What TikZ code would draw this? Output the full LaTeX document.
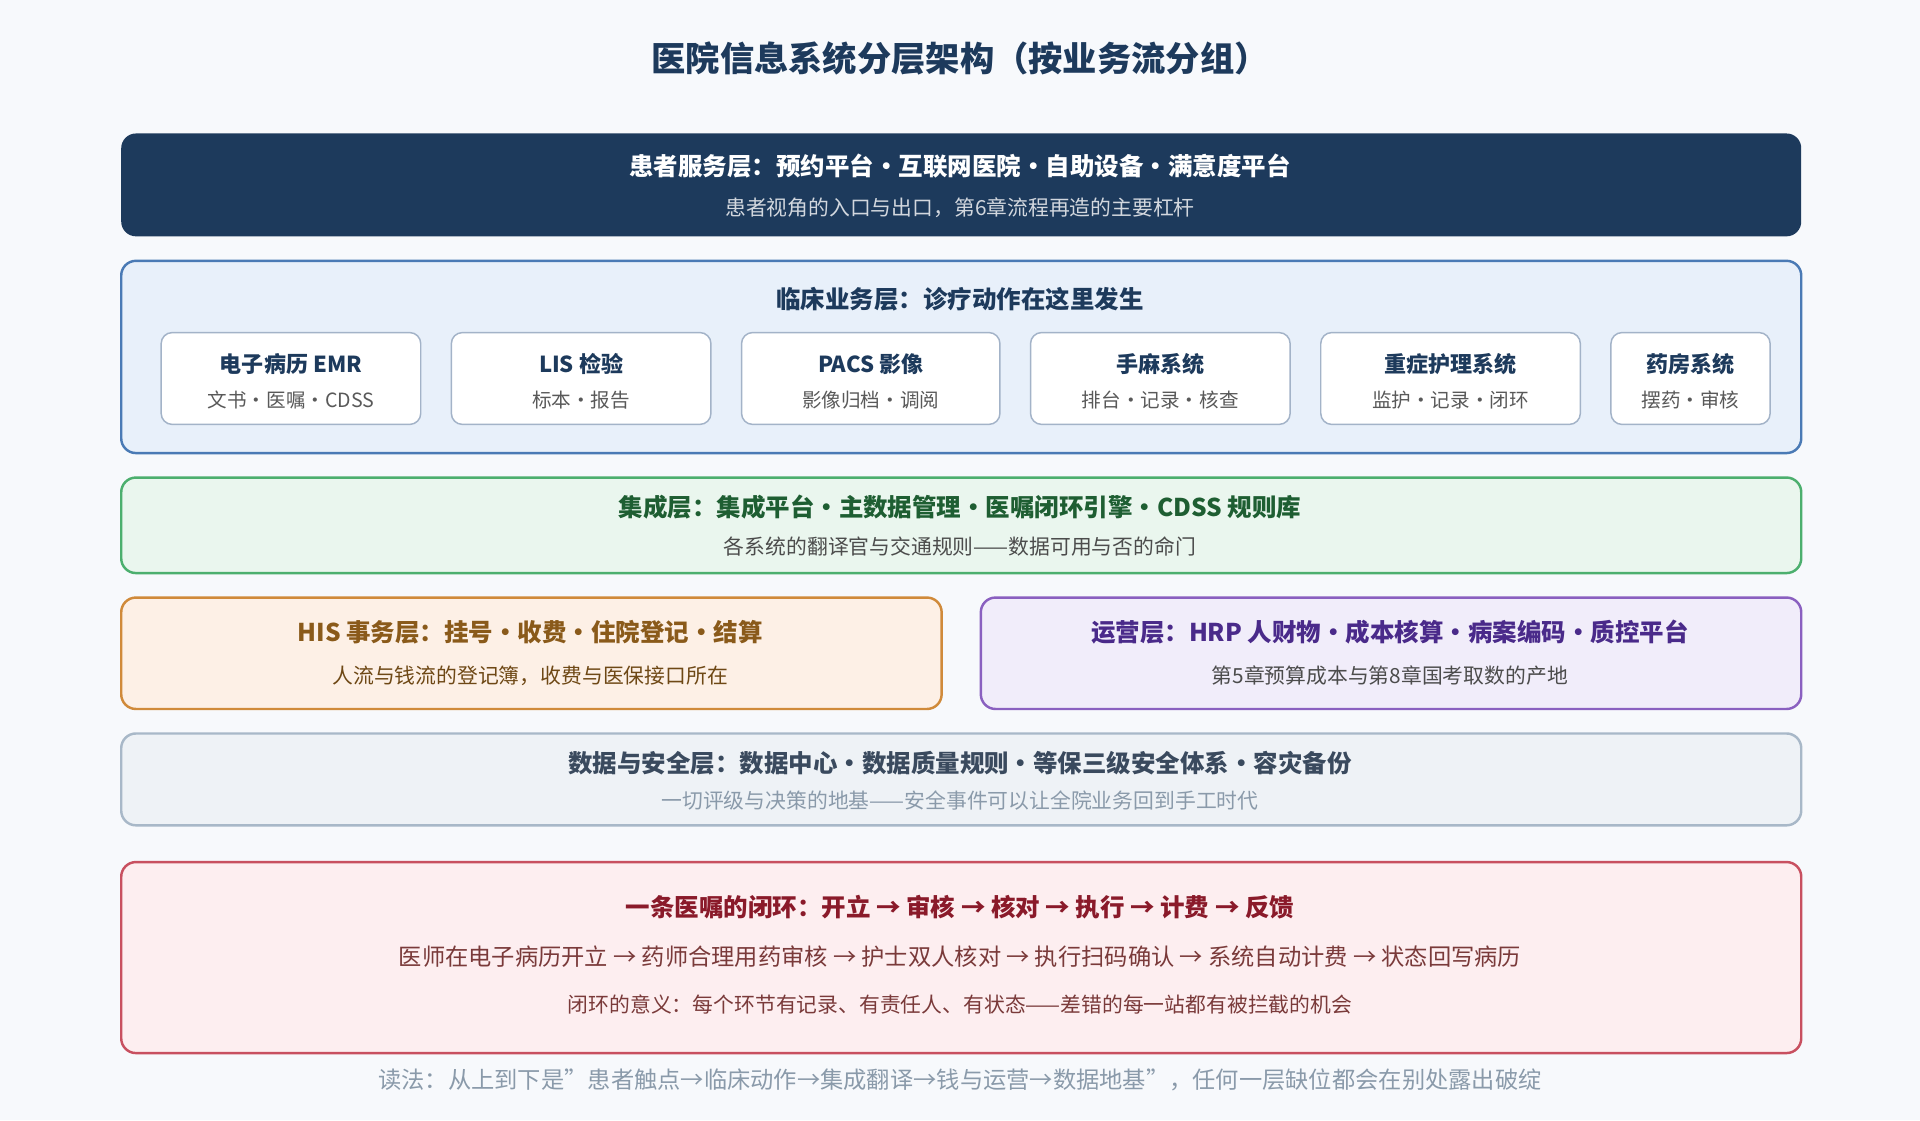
\documentclass[tikz,border=0pt]{standalone}
\usepackage{fontspec}
\setmainfont{Noto Sans CJK SC}
\usetikzlibrary{positioning}

\definecolor{navy}{HTML}{1D3A5C}
\definecolor{bgpage}{HTML}{F7F9FC}
\definecolor{clinfill}{HTML}{E8F0FA}
\definecolor{clindraw}{HTML}{4A7AB5}
\definecolor{cardline}{HTML}{A3B3C8}
\definecolor{intfill}{HTML}{EAF6EE}
\definecolor{intdraw}{HTML}{4CAF6E}
\definecolor{inttext}{HTML}{1E5E32}
\definecolor{hisfill}{HTML}{FDF0E6}
\definecolor{hisdraw}{HTML}{D08A3A}
\definecolor{histext}{HTML}{8A5A1A}
\definecolor{opsfill}{HTML}{F1EDFA}
\definecolor{opsdraw}{HTML}{8A60C0}
\definecolor{opstext}{HTML}{4A2A8A}
\definecolor{datfill}{HTML}{EEF2F6}
\definecolor{datdraw}{HTML}{A8B8C8}
\definecolor{dattext}{HTML}{3A4A5E}
\definecolor{loopfill}{HTML}{FDEEF0}
\definecolor{loopdraw}{HTML}{C85060}
\definecolor{looptext}{HTML}{8A1A2A}
\definecolor{loopsub}{HTML}{7A3A3A}
\definecolor{mutedtext}{HTML}{8A9AAA}

\begin{document}
\begin{tikzpicture}[x=1pt, y=-1pt,
	layer/.style={rounded corners=12pt, line width=2pt, anchor=north west, inner sep=0pt},
	card/.style={draw=cardline, fill=white, line width=1.2pt, rounded corners=9pt, anchor=north west, inner sep=0pt, minimum height=75pt},
	ttl/.style={font=\bfseries\fontsize{20}{24}\selectfont},
	sub/.style={font=\fontsize{17}{20}\selectfont},
	cardttl/.style={font=\bfseries\fontsize{18}{22}\selectfont, text=navy},
	cardsub/.style={font=\fontsize{16}{19}\selectfont, text=black!65}]

	%% Page and title
	\fill[bgpage] (0,0) rectangle (1568,915);
	\useasboundingbox (0,0) rectangle (1568,915);
	\node[font=\bfseries\fontsize{28}{32}\selectfont, text=navy] (title) at (784,48) {医院信息系统分层架构（按业务流分组）};

	%% Patient service layer
	\node[layer, fill=navy, minimum width=1372pt, minimum height=84pt] (patient) at (98,108) {};
	\node[ttl, text=white] (patient-t) at (784,136) {患者服务层：预约平台•互联网医院•自助设备•满意度平台};
	\node[sub, text=navy!20] (patient-s) at (784,170) {患者视角的入口与出口，第6章流程再造的主要杠杆};

	%% Clinical layer
	\node[layer, draw=clindraw, fill=clinfill, minimum width=1372pt, minimum height=157pt] (clinic) at (98,212) {};
	\node[ttl, text=navy] (clinic-t) at (784,244) {临床业务层：诊疗动作在这里发生};
	\foreach \x/\w/\name/\a/\b in {
		131/212/emr/电子病历 EMR/文书·医嘱·CDSS,
		368/212/lis/LIS 检验/标本·报告,
		605/211/pacs/PACS 影像/影像归档·调阅,
		841/212/or/手麻系统/排台·记录·核查,
		1078/212/icu/重症护理系统/监护·记录·闭环,
		1315/130/rx/药房系统/摆药·审核}{
		\node[card, minimum width=\w pt] (\name) at (\x,271) {};
		\node[cardttl] at ([yshift=-26pt]\name.north) {\a};
		\node[cardsub] at ([yshift=-56pt]\name.north) {\b};
	}

	%% Integration layer
	\node[layer, draw=intdraw, fill=intfill, minimum width=1372pt, minimum height=78pt] (integ) at (98,389) {};
	\node[ttl, text=inttext] (integ-t) at (784,414) {集成层：集成平台•主数据管理•医嘱闭环引擎•CDSS 规则库};
	\node[sub, text=black!70] (integ-s) at (784,446) {各系统的翻译官与交通规则——数据可用与否的命门};

	%% HIS and operations
	\node[layer, draw=hisdraw, fill=hisfill, minimum width=670pt, minimum height=91pt] (his) at (98,487) {};
	\node[ttl, text=histext] (his-t) at (433,516) {HIS 事务层：挂号•收费•住院登记•结算};
	\node[sub, text=histext!80!black] (his-s) at (433,552) {人流与钱流的登记簿，收费与医保接口所在};
	\node[layer, draw=opsdraw, fill=opsfill, minimum width=670pt, minimum height=91pt] (ops) at (800,487) {};
	\node[ttl, text=opstext] (ops-t) at (1135,516) {运营层：HRP 人财物•成本核算•病案编码•质控平台};
	\node[sub, text=black!70] (ops-s) at (1135,552) {第5章预算成本与第8章国考取数的产地};

	%% Data and security layer
	\node[layer, draw=datdraw, fill=datfill, minimum width=1372pt, minimum height=75pt] (data) at (98,598) {};
	\node[ttl, text=dattext] (data-t) at (784,623) {数据与安全层：数据中心•数据质量规则•等保三级安全体系•容灾备份};
	\node[sub, text=mutedtext] (data-s) at (784,654) {一切评级与决策的地基——安全事件可以让全院业务回到手工时代};

	%% Closed loop of an order
	\node[layer, draw=loopdraw, fill=loopfill, minimum width=1372pt, minimum height=156pt] (loop) at (98,703) {};
	\node[ttl, text=looptext] (loop-t) at (784,741) {一条医嘱的闭环：开立 → 审核 → 核对 → 执行 → 计费 → 反馈};
	\node[sub, text=loopsub, font=\fontsize{19}{22}\selectfont] (loop-a) at (784,781) {医师在电子病历开立 → 药师合理用药审核 → 护士双人核对 → 执行扫码确认 → 系统自动计费 → 状态回写病历};
	\node[sub, text=loopsub] (loop-b) at (784,820) {闭环的意义：每个环节有记录、有责任人、有状态——差错的每一站都有被拦截的机会};

	%% Footer
	\node[text=mutedtext, font=\fontsize{19}{22}\selectfont] (note) at (784,882) {读法：从上到下是"患者触点→临床动作→集成翻译→钱与运营→数据地基"，任何一层缺位都会在别处露出破绽};

\end{tikzpicture}
\end{document}
